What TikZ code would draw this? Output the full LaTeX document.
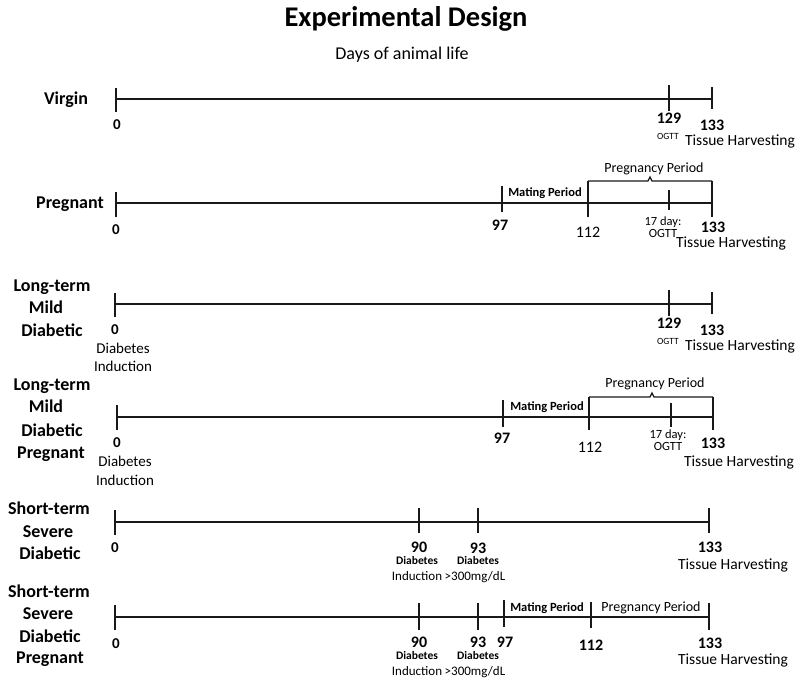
\documentclass[tikz,border=0pt]{standalone}
\usepackage{fontspec}
\setmainfont{Carlito}
\definecolor{lc}{RGB}{25,25,25}
\begin{document}
\begin{tikzpicture}[x=1pt,y=-1pt,
  tl/.style={line width=2.4pt, draw=lc},
  tk/.style={line width=1.3pt, draw=lc},
  tx/.style={inner sep=0pt, outer sep=0pt, text depth=0pt, text=black},
  ttl/.style={tx, text height=17.9pt, font=\fontsize{28.5}{30}\selectfont\bfseries},
  sub/.style={tx, text height=11.5pt, font=\fontsize{18}{20}\selectfont},
  rowlab/.style={tx, text height=11.5pt, font=\fontsize{18}{20}\selectfont\bfseries},
  numb/.style={tx, text height=10.2pt, font=\fontsize{16}{18}\selectfont\bfseries},
  numr/.style={tx, text height=10.2pt, font=\fontsize{16}{18}\selectfont},
  zero/.style={tx, text height=9.6pt, font=\fontsize{15}{17}\selectfont\bfseries},
  harv/.style={tx, text height=9.6pt, font=\fontsize{15.5}{17}\selectfont},
  ogs/.style={tx, text height=6pt, font=\fontsize{9.5}{11}\selectfont},
  ogl/.style={tx, text height=7.8pt, font=\fontsize{12.5}{14}\selectfont},
  mate/.style={tx, text height=8pt, font=\fontsize{12.5}{14}\selectfont\bfseries},
  preg/.style={tx, text height=9pt, font=\fontsize{14}{16}\selectfont},
  dind/.style={tx, text height=9.6pt, font=\fontsize{15}{17}\selectfont},
  sdb/.style={tx, text height=7.2pt, font=\fontsize{11.5}{13}\selectfont\bfseries},
  sdi/.style={tx, text height=8pt, font=\fontsize{13}{15}\selectfont}
]
\useasboundingbox[fill=white] (0,0) rectangle (800,699);

% Title
\node[ttl] (title) at (406,18) {Experimental Design};
\node[sub] (subtitle) at (402,53.5) {Days of animal life};

% ---------- Row 1: Virgin ----------
\coordinate (a0) at (116,99);
\coordinate (a129) at (669,99);
\coordinate (a133) at (712,99);
\draw[tl] (a0) -- (a133);
\draw[tk] (a0) ++(0,-11) -- ++(0,24);
\draw[tk] (a129) ++(0,-14) -- ++(0,26);
\draw[tk] (a133) ++(0,-12) -- ++(0,22);
\node[rowlab] (alab) at (66,99) {Virgin};
\node[zero] (a0t) at (117,125) {0};
\node[numb] (a129t) at (669,118) {129};
\node[ogs] (a129o) at (668,136.5) {OGTT};
\node[numb] (a133t) at (712,125) {133};
\node[harv] (a133h) at (740,141) {Tissue Harvesting};

% ---------- Row 2: Pregnant ----------
\coordinate (b0) at (116,203);
\coordinate (b97) at (502,203);
\coordinate (b112) at (588,203);
\coordinate (bog) at (669,203);
\coordinate (b133) at (712,203);
\draw[tl] (b0) -- (b133);
\draw[tk] (b0) ++(0,-11) -- ++(0,25);
\draw[tk] (b97) ++(0,-17) -- ++(0,26);
\draw[tk] (b112) ++(0,-22) -- ++(0,36);
\draw[tk] (bog) ++(0,-13) -- ++(0,20);
\draw[tk] (b133) ++(0,-22) -- ++(0,36);
\draw[tk] (588,181) -- (648,181) -- (650,177) -- (652,181) -- (712,181);
\node[rowlab] (blab) at (70,203) {Pregnant};
\node[zero] (b0t) at (116,230) {0};
\node[numb] (b97t) at (500,225) {97};
\node[mate] (bmate) at (545,192) {Mating Period};
\node[numr] (b112t) at (588,232) {112};
\node[ogl] (bogd) at (663,222) {17 day:};
\node[ogl] (bogo) at (663,234) {OGTT};
\node[numb] (b133t) at (713,227) {133};
\node[harv] (b133h) at (731,243) {Tissue Harvesting};
\node[preg] (bpreg) at (654,168) {Pregnancy Period};

% ---------- Row 3: Long-term Mild Diabetic ----------
\coordinate (c0) at (115,304);
\coordinate (c129) at (669,304);
\coordinate (c133) at (712,304);
\draw[tl] (c0) -- (c133);
\draw[tk] (c0) ++(0,-11) -- ++(0,24);
\draw[tk] (c129) ++(0,-14) -- ++(0,26);
\draw[tk] (c133) ++(0,-12) -- ++(0,22);
\node[rowlab] (clab1) at (52,286) {Long-term};
\node[rowlab] (clab2) at (46,308) {Mild};
\node[rowlab] (clab3) at (52,331) {Diabetic};
\node[zero] (c0t) at (115,330) {0};
\node[dind] (c0d) at (123,349) {Diabetes};
\node[dind] (c0i) at (123,367) {Induction};
\node[numb] (c129t) at (669,323) {129};
\node[ogs] (c129o) at (668,341.5) {OGTT};
\node[numb] (c133t) at (712,330) {133};
\node[harv] (c133h) at (740,346) {Tissue Harvesting};

% ---------- Row 4: Long-term Mild Diabetic Pregnant ----------
\coordinate (d0) at (117,417);
\coordinate (d97) at (503,417);
\coordinate (d112) at (589,417);
\coordinate (dog) at (671,417);
\coordinate (d133) at (713,417);
\draw[tl] (d0) -- (d133);
\draw[tk] (d0) ++(0,-12) -- ++(0,25);
\draw[tk] (d97) ++(0,-17) -- ++(0,27);
\draw[tk] (d112) ++(0,-20) -- ++(0,33);
\draw[tk] (dog) ++(0,-14) -- ++(0,24);
\draw[tk] (d133) ++(0,-20) -- ++(0,33);
\draw[tk] (589,397) -- (650,397) -- (652,393) -- (654,397) -- (713,397);
\node[rowlab] (dlab1) at (52,385) {Long-term};
\node[rowlab] (dlab2) at (46,407) {Mild};
\node[rowlab] (dlab3) at (52,431) {Diabetic};
\node[rowlab] (dlab4) at (51,453) {Pregnant};
\node[zero] (d0t) at (117,443) {0};
\node[dind] (d0d) at (125,462) {Diabetes};
\node[dind] (d0i) at (125,481) {Induction};
\node[numb] (d97t) at (502,438) {97};
\node[mate] (dmate) at (547,406) {Mating Period};
\node[numr] (d112t) at (590,447) {112};
\node[ogl] (dogd) at (668,435) {17 day:};
\node[ogl] (dogo) at (668,447) {OGTT};
\node[numb] (d133t) at (713,443) {133};
\node[harv] (d133h) at (739,462) {Tissue Harvesting};
\node[preg] (dpreg) at (655,383) {Pregnancy Period};

% ---------- Row 5: Short-term Severe Diabetic ----------
\coordinate (e0) at (115,522);
\coordinate (e90) at (419,522);
\coordinate (e93) at (478,522);
\coordinate (e133) at (709,522);
\draw[tl] (e0) -- (e133);
\draw[tk] (e0) ++(0,-12) -- ++(0,25);
\draw[tk] (e90) ++(0,-14) -- ++(0,25);
\draw[tk] (e93) ++(0,-14) -- ++(0,25);
\draw[tk] (e133) ++(0,-14) -- ++(0,25);
\node[rowlab] (elab1) at (49,509) {Short-term};
\node[rowlab] (elab2) at (48,532) {Severe};
\node[rowlab] (elab3) at (50,554) {Diabetic};
\node[zero] (e0t) at (115,548) {0};
\node[numb] (e90t) at (419,547) {90};
\node[sdb] (e90d) at (417,561) {Diabetes};
\node[sdi] (e90i) at (417,576) {Induction};
\node[numb] (e93t) at (478,548) {93};
\node[sdb] (e93d) at (478,561) {Diabetes};
\node[sdi] (e93m) at (475,576) {>300mg/dL};
\node[numb] (e133t) at (710,547) {133};
\node[harv] (e133h) at (733,565) {Tissue Harvesting};

% ---------- Row 6: Short-term Severe Diabetic Pregnant ----------
\coordinate (f0) at (115,617);
\coordinate (f90) at (419,617);
\coordinate (f93) at (478,617);
\coordinate (f97) at (504,617);
\coordinate (f112) at (591,617);
\coordinate (f133) at (709,617);
\draw[tl] (f0) -- (f133);
\draw[tk] (f0) ++(0,-12) -- ++(0,25);
\draw[tk] (f90) ++(0,-14) -- ++(0,27);
\draw[tk] (f93) ++(0,-14) -- ++(0,27);
\draw[tk] (f97) ++(0,-17) -- ++(0,27);
\draw[tk] (f112) ++(0,-15) -- ++(0,26);
\draw[tk] (f133) ++(0,-14) -- ++(0,27);
\node[rowlab] (flab1) at (49,592) {Short-term};
\node[rowlab] (flab2) at (48,614) {Severe};
\node[rowlab] (flab3) at (50,637) {Diabetic};
\node[rowlab] (flab4) at (50,658) {Pregnant};
\node[zero] (f0t) at (116,644) {0};
\node[numb] (f90t) at (419,642) {90};
\node[sdb] (f90d) at (417,656) {Diabetes};
\node[sdi] (f90i) at (417,671) {Induction};
\node[numb] (f93t) at (478,642) {93};
\node[sdb] (f93d) at (478,656) {Diabetes};
\node[sdi] (f93m) at (475,671) {>300mg/dL};
\node[numb] (f97t) at (505,642) {97};
\node[numb] (f112t) at (591,645) {112};
\node[numb] (f133t) at (710,643) {133};
\node[harv] (f133h) at (733,660) {Tissue Harvesting};
\node[mate] (fmate) at (547,607) {Mating Period};
\node[preg] (fpreg) at (651,607) {Pregnancy Period};
\end{tikzpicture}
\end{document}
